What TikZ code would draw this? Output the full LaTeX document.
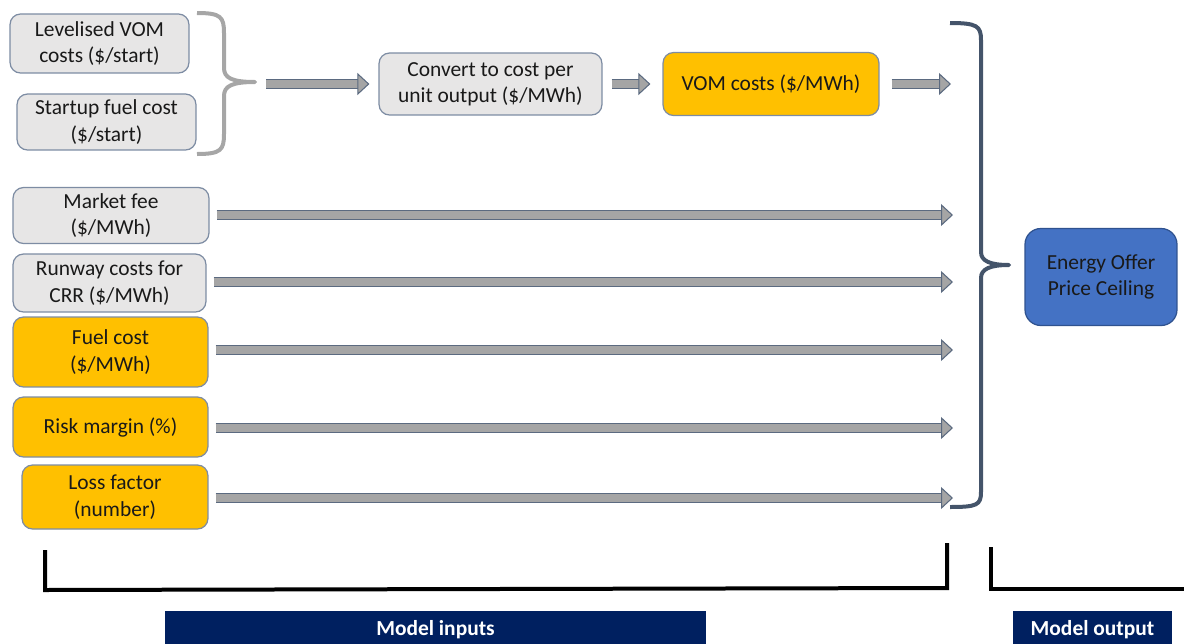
\documentclass[tikz,border=0pt]{standalone}
\usepackage{fontspec}
\setmainfont{Carlito}
\usepackage{xcolor}
\usepackage{tikz}
\usetikzlibrary{arrows.meta,calc}
\definecolor{boxgray}{HTML}{E7E6E6}
\definecolor{boxedge}{HTML}{7D8CA3}
\definecolor{vomorange}{HTML}{FFC000}
\definecolor{ceilblue}{HTML}{4472C4}
\definecolor{ceiledge}{HTML}{2F528F}
\definecolor{arrowgray}{HTML}{A5A5A5}
\definecolor{arrowedge}{HTML}{5B6A80}
\definecolor{bracegray}{HTML}{A6A6A6}
\definecolor{bracedark}{HTML}{44546A}
\definecolor{labelnavy}{HTML}{002060}
\tikzset{
  inbox/.style={draw=boxedge, fill=boxgray, rounded corners=6pt, align=center, inner sep=2pt, line width=0.7pt, text=black!90, font=\fontsize{12.2}{15}\selectfont},
  keybox/.style={inbox, fill=vomorange},
  outbox/.style={inbox, draw=ceiledge, fill=ceilblue, rounded corners=9pt},
  partlabel/.style={fill=labelnavy, text=white, inner sep=0pt, font=\bfseries\fontsize{12.2}{15}\selectfont},
  blockarrow/.style={draw=arrowgray, line width=0.16cm, shorten >=#1,
    -{Triangle[length=0.24cm, width=0.44cm, line width=0.6pt, color=arrowedge, fill=arrowgray]},
    preaction={draw=arrowedge, line width=0.2cm, arrows=-, shorten >=#1+0.23cm}},
  blockarrow/.default=0pt,
  bracket/.style={line width=0.08cm, line join=round},
  groupline/.style={line width=0.08cm, black}
}
\begin{document}
\begin{tikzpicture}[x=0.02cm, y=-0.02cm]
\useasboundingbox (0,0) rectangle (1184,643);
% start-up cost inputs
\node[inbox, minimum width=3.58cm, minimum height=1.18cm] (levom) at (99.5,43.5) {Levelised VOM\\costs (\$/start)};
\node[inbox, minimum width=3.58cm, minimum height=1.12cm] (sfuel) at (106.5,122) {Startup fuel cost\\(\$/start)};
\draw[bracket, bracegray] (197,13) .. controls (221,13) and (224,17) .. (224,33) -- (224,68)
  .. controls (224,78) and (232,82) .. (255,82) coordinate (gtip)
  .. controls (232,82) and (224,86) .. (224,96) -- (224,134)
  .. controls (224,150) and (221,154) .. (197,154);
\node[inbox, minimum width=4.46cm, minimum height=1.24cm] (convert) at (490.5,84) {Convert to cost per\\unit output (\$/MWh)};
\node[keybox, minimum width=4.32cm, minimum height=1.26cm] (vom) at (771,84) {VOM costs (\$/MWh)};
% other inputs
\node[inbox, minimum width=3.92cm, minimum height=1.12cm] (mfee) at (111,215.5) {Market fee\\(\$/MWh)};
\node[inbox, minimum width=3.86cm, minimum height=1.16cm] (runway) at (109.5,283) {Runway costs for\\CRR (\$/MWh)};
\node[keybox, minimum width=3.9cm, minimum height=1.4cm] (fcost) at (110.5,352) {Fuel cost\\(\$/MWh)};
\node[keybox, minimum width=3.9cm, minimum height=1.2cm] (risk) at (110.5,427) {Risk margin (\%)};
\node[keybox, minimum width=3.72cm, minimum height=1.28cm] (loss) at (115,497) {Loss factor\\(number)};
% output
\node[outbox, minimum width=3.04cm, minimum height=1.94cm] (eopc) at (1101,277) {Energy Offer\\Price Ceiling};
\draw[bracket, bracedark] (950,23) .. controls (977,23) and (981,26) .. (981,40) -- (981,252)
  .. controls (981,261) and (990,265) .. (1009,265) coordinate (dtip)
  .. controls (990,265) and (981,269) .. (981,278) -- (981,492)
  .. controls (981,505) and (977,507) .. (950,507);
% arrow ends
\coordinate (vomend) at (951,84);
\coordinate (mfeeend) at (953,215);
\coordinate (runwayend) at (953,282);
\coordinate (fcostend) at (953,350);
\coordinate (riskend) at (953,428);
\coordinate (lossend) at (953,498);
\draw[blockarrow=0.18cm, shorten <=0.22cm] (gtip |- convert.west) -- (convert.west);
\draw[blockarrow=0.24cm, shorten <=0.18cm] (convert.east) -- (vom.west);
\draw[blockarrow, shorten <=0.24cm] (vom.east |- vomend) -- (vomend);
\foreach \src in {mfee,runway,fcost,risk,loss}
  \draw[blockarrow, shorten <=0.14cm] (\src.east |- \src end) -- (\src end);
% model parts
\draw[groupline] (45,550) -- (45,590) -- (947,588) -- (947,543);
\draw[groupline] (991,547) -- (991,589) -- (1184,589);
\node[partlabel, minimum width=10.82cm, minimum height=0.76cm] (inputs) at (435.5,630) {Model inputs};
\node[partlabel, minimum width=3.18cm, minimum height=0.76cm] (outputs) at (1092.5,630) {Model output};
\end{tikzpicture}
\end{document}
